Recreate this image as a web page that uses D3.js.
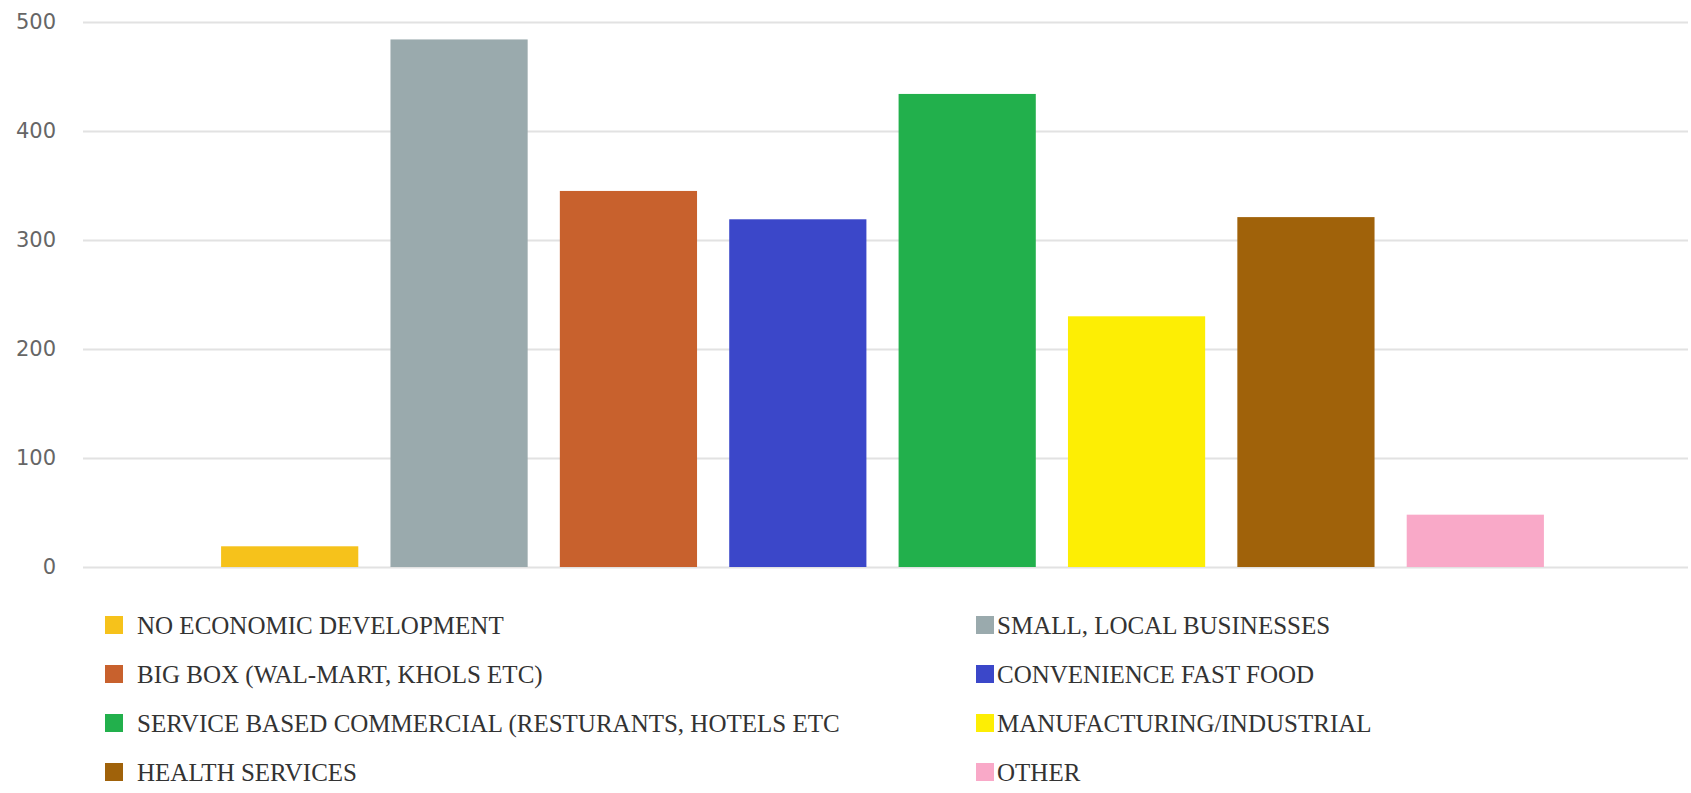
<!DOCTYPE html>
<html lang="en">
<head>
  <meta charset="utf-8">
  <title>Economic development preferences</title>
  <style>
    body {
      margin:0;
      background-color:#fff;
    }
    .tick text {
      font:21px "DejaVu Sans", sans-serif;
      fill:#666;
    }
    .legend text {
      font:25px "Liberation Serif", serif;
      fill:#333;
    }
  </style>
</head>
<body>
  <svg id="chart" width="1691" height="793"></svg>
  <script src="https://d3js.org/d3.v7.min.js"></script>
  <script>
    var categories = [
      "NO ECONOMIC DEVELOPMENT",
      "SMALL, LOCAL BUSINESSES",
      "BIG BOX (WAL-MART, KHOLS ETC)",
      "CONVENIENCE FAST FOOD",
      "SERVICE BASED COMMERCIAL (RESTURANTS, HOTELS ETC",
      "MANUFACTURING/INDUSTRIAL",
      "HEALTH SERVICES",
      "OTHER"
    ];
    var values = [19, 484, 345, 319, 434, 230, 321, 48];
    var colors = ["#f6c21b", "#9aaaad", "#c8612d", "#3b47c9", "#22b04c", "#fdee04", "#a0620a", "#f9a9c8"];
    var yTicks = [0, 100, 200, 300, 400, 500];

    var svg = d3.select("#chart");

    var y = d3.scaleLinear()
        .domain([0, 500])
        .range([567, 22]);

    var x = d3.scaleBand()
        .domain(categories)
        .range([205, 1560])
        .paddingInner(0.19)
        .paddingOuter(0.095);

    // grid lines
    var yAxis = svg.append("g")
        .attr("transform", "translate(83,0)")
        .call(d3.axisLeft(y).tickValues(yTicks).tickSize(-1605).tickPadding(27));
    yAxis.select(".domain").remove();
    yAxis.selectAll(".tick line")
        .attr("stroke", "#e2e2e2")
        .attr("stroke-width", 2);

    svg.append("g").selectAll("rect")
        .data(values)
        .enter().append("rect")
        .attr("x", function(d, i){ return x(categories[i]); })
        .attr("y", function(d){ return y(d); })
        .attr("width", x.bandwidth())
        .attr("height", function(d){ return y(0) - y(d); })
        .attr("fill", function(d, i){ return colors[i]; });

    // legend, two columns
    var legend = svg.append("g").attr("class", "legend");
    var item = legend.selectAll("g")
        .data(categories)
        .enter().append("g")
        .attr("transform", function(d, i){
          var col = i % 2, row = Math.floor(i / 2);
          return "translate(" + (col ? 976 : 105) + "," + (625 + row * 49) + ")";
        });

    item.append("rect")
        .attr("x", 0)
        .attr("y", -9)
        .attr("width", 18)
        .attr("height", 18)
        .attr("fill", function(d, i){ return colors[i]; });

    item.append("text")
        .attr("x", function(d, i){ return i % 2 ? 21 : 32; })
        .attr("dy", "0.35em")
        .text(function(d){ return d; });
  </script>
</body>
</html>
